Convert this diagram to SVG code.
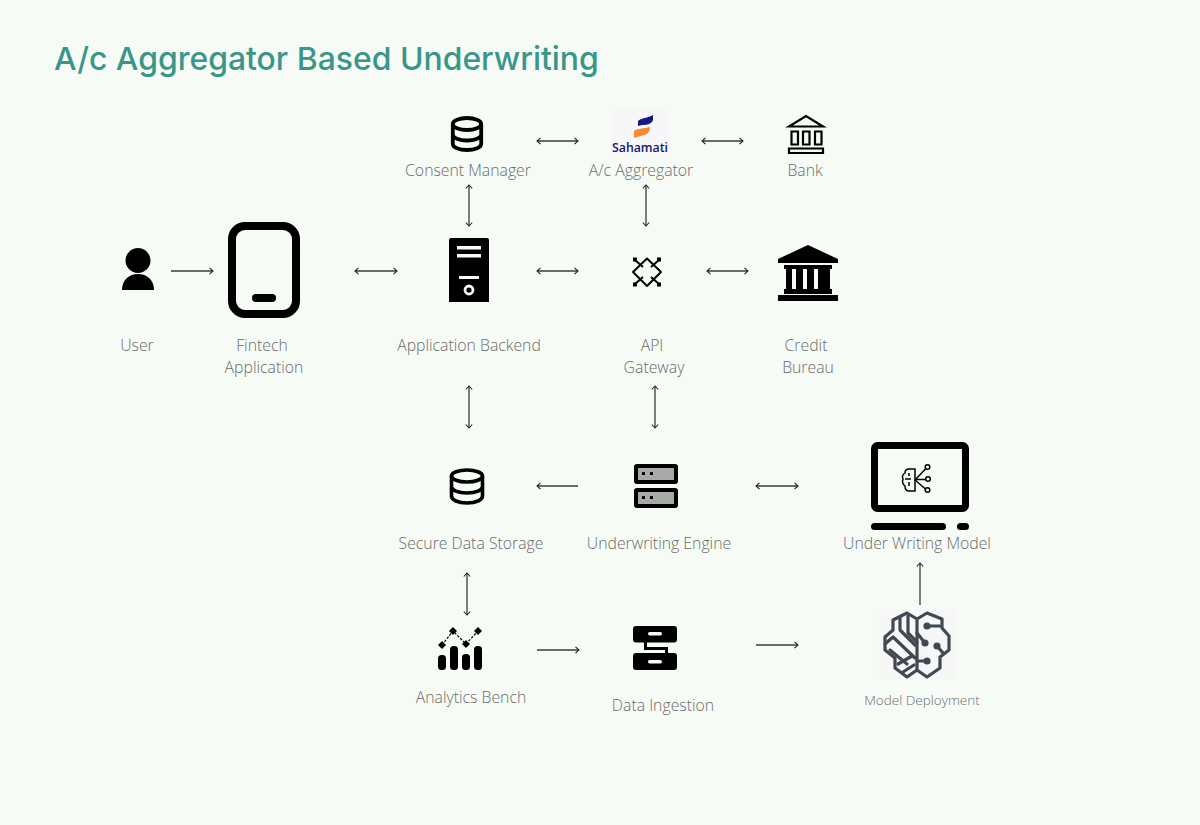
<svg xmlns="http://www.w3.org/2000/svg" width="1200" height="825" viewBox="0 0 1200 825">
<defs>
<marker id="head" viewBox="0 0 8 8" refX="7" refY="4" markerWidth="8" markerHeight="8" orient="auto-start-reverse" markerUnits="userSpaceOnUse"><path d="M3.500 .8L7 4L3.500 7.200" fill="none" stroke="#1f221f" stroke-width="1.100"/></marker>
</defs>
<style>
.t{font-family:"Open Sans","Liberation Sans",sans-serif;font-weight:300;font-size:15.800px;fill:#6a6c6a;text-anchor:middle}
.c{fill:none;stroke:#3a3d3a;stroke-width:1.300;marker-end:url(#head)}
.b{marker-start:url(#head)}
.k{fill:#000}
.s{fill:none;stroke:#000}
.m{fill:none;stroke:#414852;stroke-width:3.200;stroke-linejoin:round;stroke-linecap:round}
.md{fill:#414852}
</style>
<rect width="1200" height="825" fill="#f7fbf6"/>
<text x="54" y="70" font-family="Inter,'Liberation Sans',sans-serif" font-weight="500" font-size="31.900" fill="#3a9688">A/c Aggregator Based Underwriting</text>
<g id="connectors">
<path class="c" d="M171 271H213"/>
<path class="c b" d="M355 271H397"/>
<path class="c b" d="M537 271H578"/>
<path class="c b" d="M707 271H748"/>
<path class="c b" d="M537 141H578"/>
<path class="c b" d="M702 141H743"/>
<path class="c b" d="M469 185V226"/>
<path class="c b" d="M646 185V226"/>
<path class="c b" d="M469 386V428"/>
<path class="c b" d="M655 386V428"/>
<path class="c" d="M578 486H537"/>
<path class="c b" d="M756 486H798"/>
<path class="c b" d="M467 573V615"/>
<path class="c" d="M537 650H579"/>
<path class="c" d="M756 645H798"/>
<path class="c" d="M920 605V563"/>
</g>
<g id="user">
<circle class="k" cx="138" cy="260.500" r="12.500"/>
<path class="k" d="M122 290C122 280 129 274 138 274S154 280 154 290Z"/>
<text class="t" x="137" y="351">User</text>
</g>
<g id="fintech">
<rect class="s" x="232" y="226" width="64" height="88" rx="13" stroke-width="8"/>
<rect class="k" x="252" y="294" width="24" height="8" rx="4"/>
<text class="t" x="262" y="351">Fintech</text>
<text class="t" x="264" y="373">Application</text>
</g>
<g id="consent">
<g class="s" stroke-width="3.800"><ellipse cx="467" cy="124" rx="14.200" ry="6"/><path d="M452.800 124V144C452.800 147.500 459 150 467 150S481.200 147.500 481.200 144V124M452.800 134.500C452.800 138 459 140.500 467 140.500S481.200 138 481.200 134.500"/></g>
<text class="t" x="468" y="176">Consent Manager</text>
</g>
<g id="aggregator">
<rect x="610" y="109" width="60" height="49" fill="#f7f7f9"/>
<path d="M638 121C641 118 648 118 653 115V120C652 124 647 125 642 125L638 126Z" fill="#141a80"/>
<path d="M634 131C637 128 644 129 650 127C650 131 648 134 644 135L634 138Z" fill="#f58a2e"/>
<text x="640" y="151.500" font-family="'Open Sans','Liberation Sans',sans-serif" font-size="12.300" font-weight="600" fill="#14196e" text-anchor="middle">Sahamati</text>
<text class="t" x="641" y="176">A/c Aggregator</text>
</g>
<g id="bank">
<path class="s" stroke-width="2.200" d="M789 126.500L806 116L823 126.500ZM789 148.500H823V153H789ZM791.500 131.500H798V144.500H791.500ZM803 131.500H809.500V144.500H803ZM815 131.500H821.500V144.500H815Z"/>
<text class="t" x="805" y="176">Bank</text>
</g>
<g id="backend">
<path class="k" d="M451 238H487Q489 238 489 240V302H449V240Q449 238 451 238Z"/>
<path fill="#f7fbf6" d="M457 246H481V249.500H457ZM457 254H481V257.500H457ZM459 276H479V279H459Z"/>
<circle cx="469" cy="290" r="4" fill="none" stroke="#f7fbf6" stroke-width="2.800"/>
<text class="t" x="469" y="351">Application Backend</text>
</g>
<g id="gateway">
<path class="s" stroke-width="2" stroke-linejoin="round" d="M647 258.500L661 272L647 286L633 272Z"/>
<path class="s" stroke-width="2" d="M635 260L643 267M659 260L651 267M635 284L643 277M659 284L651 277"/>
<path class="k" d="M633 257.500h4v4h-4zM657 257.500h4v4h-4zM633 282.500h4v4h-4zM657 282.500h4v4h-4z"/>
<text class="t" x="652" y="351">API</text>
<text class="t" x="654" y="373">Gateway</text>
</g>
<g id="bureau">
<path class="k" d="M808 245L838 259V263H778V259ZM784 265H832V269H784ZM786 269H792V291H786ZM796 269H803V291H796ZM807 269H814V291H807ZM818 269H830V291H818ZM784 289H832V294H784ZM778 295H838V301H778Z"/>
<text class="t" x="806" y="351">Credit</text>
<text class="t" x="808" y="373">Bureau</text>
</g>
<g id="storage">
<g class="s" stroke-width="3.600"><ellipse cx="467" cy="476" rx="15.500" ry="6"/><path d="M451.500 476V496C451.500 500 458 503 467 503S482.500 500 482.500 496V476M451.500 486.500C451.500 490 458 493 467 493S482.500 490 482.500 486.500"/></g>
<text class="t" x="471" y="549">Secure Data Storage</text>
</g>
<g id="engine">
<rect x="636" y="466" width="40" height="16" rx="1" fill="#a8aaa7" stroke="#000" stroke-width="4"/>
<rect x="636" y="490" width="40" height="16" rx="1" fill="#a8aaa7" stroke="#000" stroke-width="4"/>
<path class="k" d="M642 472h3v3h-3zM650 472h3v3h-3zM642 496h3v3h-3zM650 496h3v3h-3z"/>
<text class="t" x="659" y="549">Underwriting Engine</text>
</g>
<g id="model">
<rect class="s" x="874.500" y="445.500" width="91" height="63" rx="3" stroke-width="7"/>
<rect class="k" x="871" y="523" width="75" height="7" rx="3.500"/>
<rect class="k" x="957" y="523" width="12" height="7" rx="3.500"/>
<g class="s" stroke-width="1.500">
<path d="M915 469H909C906 469 905 471 905 473C902 475 902 477 903 479C902 482 902 484 905 486C905 489 906 491 909 491H915ZM905 479H911M909 473V476M909 482V486"/>
<path d="M915 480L925.500 469M915 479.500H925.500M915 480L925.500 489"/>
<circle cx="927.500" cy="467" r="2.300"/><circle cx="928" cy="479" r="2.300"/><circle cx="927.500" cy="490" r="2.300"/>
</g>
<text class="t" x="917" y="549">Under Writing Model</text>
</g>
<g id="analytics">
<path class="k" d="M442 641l4 4l-4 4l-4 -4zM453 627l4 4l-4 4l-4 -4zM466 640l4 4l-4 4l-4 -4zM478 627l4 4l-4 4l-4 -4z"/>
<path fill="none" stroke="#000" stroke-width="1.200" stroke-dasharray="2.500 1.500" d="M442 645L453 631L466 644L478 631"/>
<rect class="k" x="438" y="655" width="8" height="15" rx="3.500"/>
<rect class="k" x="450" y="646" width="8" height="24" rx="3.500"/>
<rect class="k" x="462" y="654" width="8" height="16" rx="3.500"/>
<rect class="k" x="474" y="646" width="8" height="24" rx="3.500"/>
<text class="t" x="471" y="703">Analytics Bench</text>
</g>
<g id="ingestion">
<rect class="k" x="633" y="626" width="44" height="16.500" rx="3"/>
<rect class="k" x="633" y="653" width="44" height="17" rx="3"/>
<rect x="648" y="632" width="14" height="3.500" rx="1.700" fill="#f7fbf6"/>
<rect x="648" y="660" width="14" height="3.500" rx="1.700" fill="#f7fbf6"/>
<path fill="none" stroke="#000" stroke-width="3" d="M645.500 642V648.500H666.500V654"/>
<text class="t" x="663" y="711">Data Ingestion</text>
</g>
<g id="deployment">
<rect x="879" y="610" width="76" height="70" fill="#f7f7f8"/>
<path class="m" d="M917 619L907 613L893 620V630L885 637V650L895 658V668L907 677L917 670L927 677L940 668V657L949 650V636L942 628V619L927 613ZM917 619V670"/>
<path class="m" d="M900 618V630L915 645M908 616V633L917 642M885 644L893 637L915 658M890 650L907 664M898 664L912 656M903 672L914 665"/>
<path class="m" d="M927 626H940M917 633L925 643M937 646L943 653M917 661H927"/>
<circle class="md" cx="927" cy="626" r="3.600"/><circle class="md" cx="925" cy="643" r="3.600"/><circle class="md" cx="937" cy="646" r="3.600"/><circle class="md" cx="927" cy="661" r="3.600"/>
<text x="922" y="705" font-family="'Open Sans','Liberation Sans',sans-serif" font-weight="300" font-size="13.500" fill="#6a6c6a" text-anchor="middle">Model Deployment</text>
</g>
</svg>
